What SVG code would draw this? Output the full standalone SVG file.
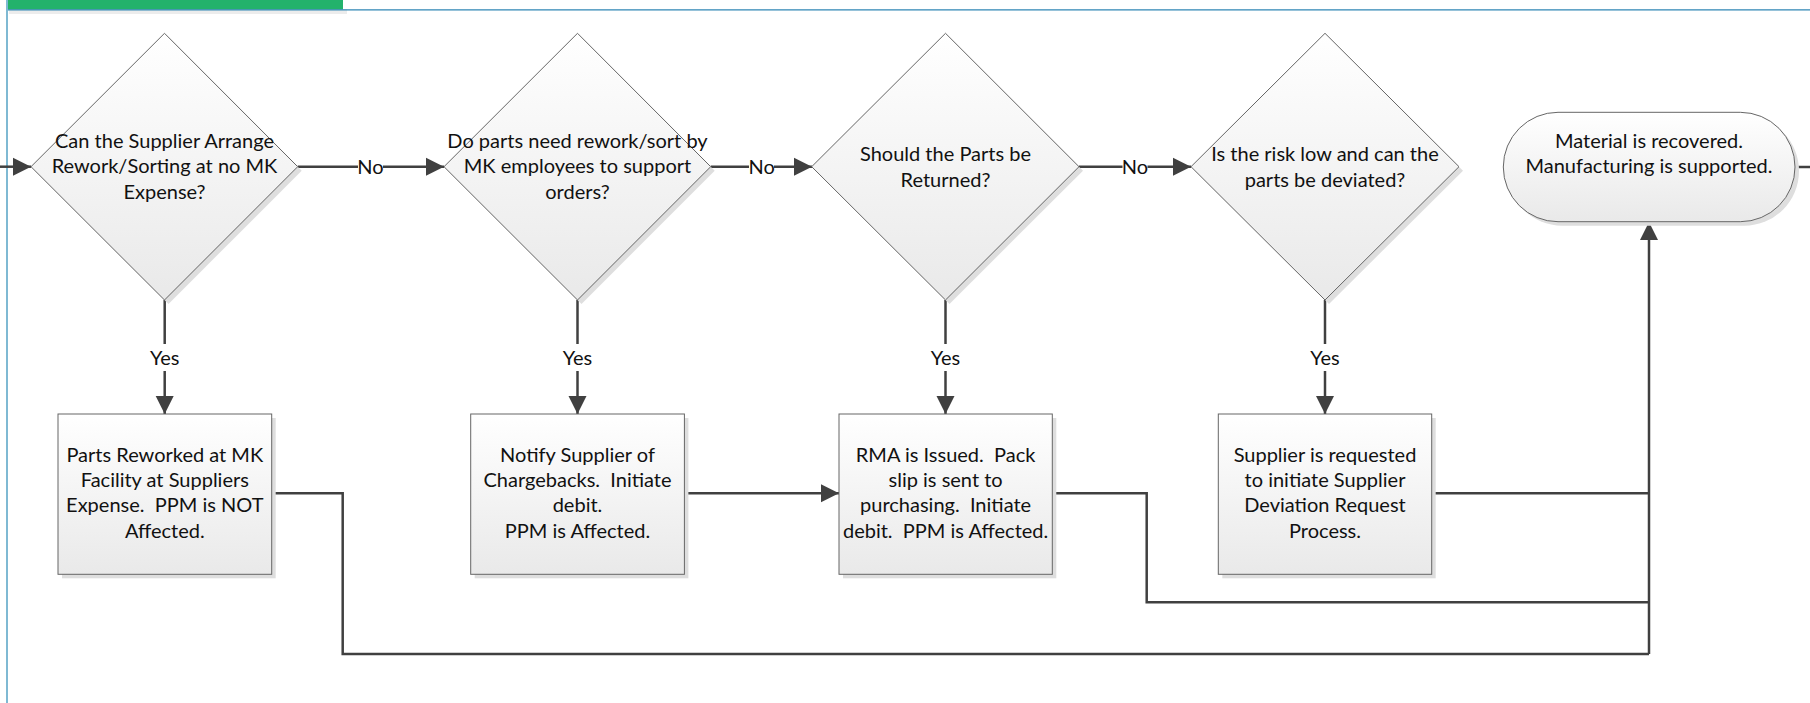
<svg xmlns="http://www.w3.org/2000/svg" width="1810" height="703" viewBox="0 0 1810 703">
<style>
text{font-family:Lato,"Liberation Sans",sans-serif;font-size:20px;fill:#111;text-anchor:middle;white-space:pre}
.shape{fill:url(#g);stroke:#666;stroke-width:1}
.shadow{fill:#dedede}
.conn{fill:none;stroke:#404040;stroke-width:2.5}
.lbl{fill:#fff}
</style>
<defs>
<linearGradient id="g" x1="0" y1="0" x2="0" y2="1">
<stop offset="0" stop-color="#ffffff"/>
<stop offset="1" stop-color="#e9e9e9"/>
</linearGradient>
<marker id="arr" markerUnits="userSpaceOnUse" markerWidth="20" markerHeight="20" viewBox="0 0 20 20" refX="18" refY="10" orient="auto">
<path d="M0,1 L18,10 L0,19 Z" fill="#404040"/>
</marker>
</defs>
<rect width="1810" height="703" fill="#fff"/>
<g id="frame">
<rect x="9" y="9" width="338" height="5" fill="#ececec"/>
<rect x="7" y="0" width="336" height="9.5" fill="#23b26b"/>
<line x1="7" y1="9.8" x2="1810" y2="9.8" stroke="#2f86b4" stroke-width="1.3"/>
<line x1="7" y1="0" x2="7" y2="703" stroke="#7fb9d3" stroke-width="2"/>
</g>
<g id="connectors">
<line class="conn" x1="0" y1="166.7" x2="31" y2="166.7" marker-end="url(#arr)"/>
<line class="conn" x1="297.7" y1="166.7" x2="444" y2="166.7" marker-end="url(#arr)"/>
<rect class="lbl" x="358" y="156" width="25" height="22"/>
<text x="370.5" y="173.5">No</text>
<line class="conn" x1="710.7" y1="166.7" x2="812" y2="166.7" marker-end="url(#arr)"/>
<rect class="lbl" x="749" y="156" width="25" height="22"/>
<text x="761.7" y="173.5">No</text>
<line class="conn" x1="1079" y1="166.7" x2="1191" y2="166.7" marker-end="url(#arr)"/>
<rect class="lbl" x="1122.5" y="156" width="25" height="22"/>
<text x="1135" y="173.5">No</text>
<line class="conn" x1="164.7" y1="300" x2="164.7" y2="414" marker-end="url(#arr)"/>
<rect class="lbl" x="148" y="344" width="33" height="27"/>
<text x="164.7" y="364.5">Yes</text>
<line class="conn" x1="577.5" y1="300" x2="577.5" y2="414" marker-end="url(#arr)"/>
<rect class="lbl" x="561" y="344" width="33" height="27"/>
<text x="577.5" y="364.5">Yes</text>
<line class="conn" x1="945.5" y1="300" x2="945.5" y2="414" marker-end="url(#arr)"/>
<rect class="lbl" x="929" y="344" width="33" height="27"/>
<text x="945.5" y="364.5">Yes</text>
<line class="conn" x1="1325" y1="300" x2="1325" y2="414" marker-end="url(#arr)"/>
<rect class="lbl" x="1308.5" y="344" width="33" height="27"/>
<text x="1325" y="364.5">Yes</text>
<line class="conn" x1="684.3" y1="493.3" x2="839" y2="493.3" marker-end="url(#arr)"/>
<polyline class="conn" points="271.7,493.3 342.7,493.3 342.7,654 1649,654"/>
<polyline class="conn" points="1052.3,493.3 1146.7,493.3 1146.7,602.3 1649,602.3"/>
<line class="conn" x1="1431.7" y1="493.3" x2="1649" y2="493.3"/>
<line class="conn" x1="1649" y1="654" x2="1649" y2="222" marker-end="url(#arr)"/>
<line class="conn" x1="1795" y1="167" x2="1810" y2="167"/>
</g>
<g id="d1">
<polygon class="shadow" points="168.5,37.3 301.7,170.7 168.5,304 35,170.7"/>
<polygon class="shape" points="164.5,33.3 297.7,166.7 164.5,300 31,166.7"/>
<text x="164.5" y="147.7">Can the Supplier Arrange</text>
<text x="164.5" y="173.3">Rework/Sorting at no MK</text>
<text x="164.5" y="199">Expense?</text>
</g>
<g id="d2">
<polygon class="shadow" points="581.5,37.3 714.7,170.7 581.5,304 448,170.7"/>
<polygon class="shape" points="577.5,33.3 710.7,166.7 577.5,300 444,166.7"/>
<text x="577.5" y="147.7">Do parts need rework/sort by</text>
<text x="577.5" y="173.3">MK employees to support</text>
<text x="577.5" y="199">orders?</text>
</g>
<g id="d3">
<polygon class="shadow" points="949.5,37.3 1083,170.7 949.5,304 815.7,170.7"/>
<polygon class="shape" points="945.5,33.3 1079,166.7 945.5,300 811.7,166.7"/>
<text x="945.5" y="161">Should the Parts be</text>
<text x="945.5" y="186.7">Returned?</text>
</g>
<g id="d4">
<polygon class="shadow" points="1329,37.3 1463,170.7 1329,304 1195,170.7"/>
<polygon class="shape" points="1325,33.3 1459,166.7 1325,300 1191,166.7"/>
<text x="1325" y="161">Is the risk low and can the</text>
<text x="1325" y="186.7">parts be deviated?</text>
</g>
<g id="term">
<rect class="shadow" x="1507.3" y="116.3" width="291.7" height="109.4" rx="54.7"/>
<rect class="shape" x="1503.3" y="112.3" width="291.7" height="109.4" rx="54.7"/>
<text x="1649" y="147.7">Material is recovered.</text>
<text x="1649" y="173.3">Manufacturing is supported.</text>
</g>
<g id="b1">
<rect class="shadow" x="62" y="418" width="213.7" height="160.3"/>
<rect class="shape" x="58" y="414" width="213.7" height="160.3"/>
<text x="164.8" y="461.7">Parts Reworked at MK</text>
<text x="164.8" y="487.3">Facility at Suppliers</text>
<text x="164.8" y="512.3">Expense.  PPM is NOT</text>
<text x="164.8" y="538.3">Affected.</text>
</g>
<g id="b2">
<rect class="shadow" x="474.7" y="418" width="213.7" height="160.3"/>
<rect class="shape" x="470.7" y="414" width="213.7" height="160.3"/>
<text x="577.5" y="461.7">Notify Supplier of</text>
<text x="577.5" y="487.3">Chargebacks.  Initiate</text>
<text x="577.5" y="512.3">debit.</text>
<text x="577.5" y="538.3">PPM is Affected.</text>
</g>
<g id="b3">
<rect class="shadow" x="843" y="418" width="213.3" height="160.3"/>
<rect class="shape" x="839" y="414" width="213.3" height="160.3"/>
<text x="945.6" y="461.7">RMA is Issued.  Pack</text>
<text x="945.6" y="487.3">slip is sent to</text>
<text x="945.6" y="512.3">purchasing.  Initiate</text>
<text x="945.6" y="538.3">debit.  PPM is Affected.</text>
</g>
<g id="b4">
<rect class="shadow" x="1222.3" y="418" width="213.4" height="160.3"/>
<rect class="shape" x="1218.3" y="414" width="213.4" height="160.3"/>
<text x="1325" y="461.7">Supplier is requested</text>
<text x="1325" y="487.3">to initiate Supplier</text>
<text x="1325" y="512.3">Deviation Request</text>
<text x="1325" y="538.3">Process.</text>
</g>
</svg>
